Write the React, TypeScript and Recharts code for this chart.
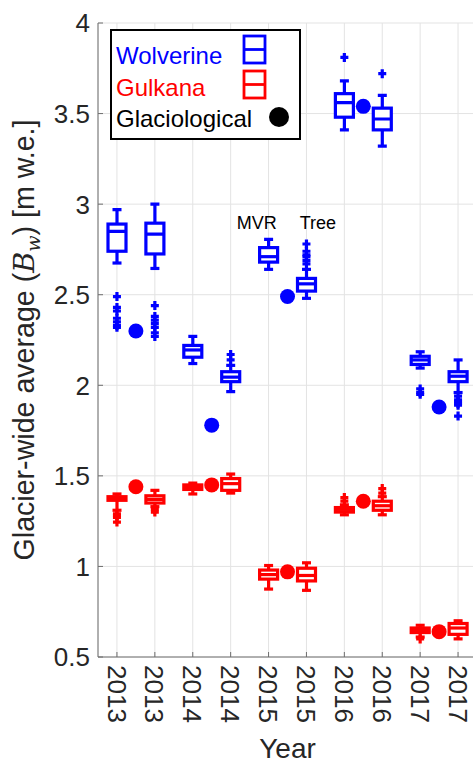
import React from 'react';
import { ComposedChart, Bar, Scatter, XAxis, YAxis, CartesianGrid, Label } from 'recharts';

// x slots: each year has two model runs (Wolverine/Gulkana boxes drawn on the same slot)
const slots = [1, 2, 3, 4, 5, 6, 7, 8, 9, 10];
const years = ['2013', '2013', '2014', '2014', '2015', '2015', '2016', '2016', '2017', '2017'];
const yTicks = [0.5, 1, 1.5, 2, 2.5, 3, 3.5, 4];

// Wolverine box stats
const wolvLow = [2.675, 2.645, 2.12, 1.965, 2.64, 2.48, 3.41, 3.32, 2.095, 1.96];
const wolvQ1 = [2.74, 2.725, 2.155, 2.02, 2.68, 2.52, 3.48, 3.41, 2.115, 2.02];
const wolvMed = [2.85, 2.835, 2.195, 2.045, 2.71, 2.56, 3.56, 3.47, 2.14, 2.05];
const wolvQ3 = [2.89, 2.895, 2.22, 2.075, 2.76, 2.59, 3.61, 3.53, 2.16, 2.075];
const wolvHigh = [2.97, 3.0, 2.27, 2.11, 2.805, 2.64, 3.68, 3.6, 2.185, 2.14];
const wolvOut = [
  [2.49, 2.43, 2.41, 2.37, 2.35, 2.33, 2.32],
  [2.44, 2.38, 2.36, 2.34, 2.32, 2.29, 2.27],
  [],
  [2.14, 2.17],
  [],
  [2.67, 2.69, 2.71, 2.72, 2.74, 2.78],
  [3.81],
  [3.72],
  [1.98, 1.96, 1.95],
  [1.94, 1.92, 1.91, 1.9, 1.89, 1.83],
];

// Gulkana box stats
const gulkLow = [1.31, 1.33, 1.4, 1.405, 0.875, 0.868, 1.285, 1.285, 0.61, 0.6];
const gulkQ1 = [1.365, 1.35, 1.425, 1.42, 0.93, 0.92, 1.3, 1.31, 0.635, 0.625];
const gulkMed = [1.375, 1.37, 1.437, 1.457, 0.955, 0.95, 1.315, 1.335, 0.65, 0.66];
const gulkQ3 = [1.385, 1.39, 1.45, 1.485, 0.98, 0.99, 1.325, 1.36, 0.66, 0.685];
const gulkHigh = [1.4, 1.42, 1.46, 1.51, 1.005, 1.02, 1.34, 1.385, 0.675, 0.7];
const gulkOut = [
  [1.29, 1.28, 1.27, 1.245],
  [1.315, 1.3],
  [],
  [],
  [],
  [],
  [1.36, 1.38],
  [1.405, 1.43],
  [0.6],
  [],
];

// glaciological values, between each pair of slots
const glacX = [1.5, 3.5, 5.5, 7.5, 9.5];
const glacWolv = [2.3, 1.78, 2.49, 3.54, 1.88];
const glacGulk = [1.44, 1.45, 0.97, 1.36, 0.64];

const notes = [
  { x: 4.69, y: 2.9, text: 'MVR' },
  { x: 6.3, y: 2.9, text: 'Tree' },
];

const BLUE = '#0000ff';
const RED = '#ff0000';
const AXIS = '#6e6e6e';
const TXT = '#262626';
const FONT = "'Liberation Sans', Arial, Helvetica, sans-serif";
const BOX_W = 18;
const LW = 3.2;

const rows = slots.map((s, i) => ({
  slot: s,
  wLow: wolvLow[i], wQ1: wolvQ1[i], wMed: wolvMed[i], wQ3: wolvQ3[i], wHigh: wolvHigh[i],
  gLow: gulkLow[i], gQ1: gulkQ1[i], gMed: gulkMed[i], gQ3: gulkQ3[i], gHigh: gulkHigh[i],
}));

const flatOut = (list: number[][]) =>
  list.flatMap((vals, i) => vals.map((v) => ({ x: slots[i], y: v })));

const glacWolvPts = glacX.map((x, i) => ({ x, y: glacWolv[i] }));
const glacGulkPts = glacX.map((x, i) => ({ x, y: glacGulk[i] }));

const span = (p: any) => {
  const top = Math.min(p.y, p.y + p.height);
  return { top, h: Math.abs(p.height), cx: p.x + p.width / 2 };
};

const whisker = (color: string) => (p: any) => {
  const { top, h, cx } = span(p);
  return (
    <g stroke={color} strokeWidth={LW}>
      <line x1={cx} x2={cx} y1={top} y2={top + h} />
      <line x1={cx - 4.5} x2={cx + 4.5} y1={top} y2={top} />
      <line x1={cx - 4.5} x2={cx + 4.5} y1={top + h} y2={top + h} />
    </g>
  );
};

const box = (color: string) => (p: any) => {
  const { top, h } = span(p);
  return <rect x={p.x} y={top} width={p.width} height={h} fill="#fff" stroke={color} strokeWidth={LW} />;
};

const median = (color: string) => (p: any) => {
  const { top, h } = span(p);
  const y = top + h / 2;
  return <line x1={p.x} x2={p.x + p.width} y1={y} y2={y} stroke={color} strokeWidth={LW} />;
};

const plus = (color: string) => (p: any) => (
  <path d={`M${p.cx - 4},${p.cy}H${p.cx + 4}M${p.cx},${p.cy - 4.5}V${p.cy + 4.5}`} stroke={color} strokeWidth={3.2} />
);

const dot = (color: string) => (p: any) => <circle cx={p.cx} cy={p.cy} r={7.5} fill={color} />;

const noteText = (p: any) => (
  <text x={p.cx} y={p.cy} dy="0.36em" textAnchor="middle" fontSize={18} fontFamily={FONT} fill="#000">
    {p.payload.text}
  </text>
);

const YTick = (p: any) => (
  <g>
    <line x1={p.x} x2={p.x + 5} y1={p.y} y2={p.y} stroke={AXIS} />
    <text x={p.x - 8} y={p.y} dy="0.36em" textAnchor="end" fontSize={26} fontFamily={FONT} fill={TXT}>
      {p.payload.value}
    </text>
  </g>
);

const XTick = (p: any) => (
  <g>
    <line x1={p.x} x2={p.x} y1={p.y} y2={p.y - 5} stroke={AXIS} />
    <text
      transform={`translate(${p.x},${p.y + 8}) rotate(90)`}
      dy="0.36em"
      textAnchor="start"
      fontSize={26}
      fontFamily={FONT}
      fill={TXT}
    >
      {years[p.payload.value - 1]}
    </text>
  </g>
);

const TopTick = (p: any) => <line x1={p.x} x2={p.x} y1={p.y} y2={p.y + 5} stroke={AXIS} />;

const YLabel = (p: any) => {
  const vb = p.viewBox || {};
  const cy = vb.height ? vb.y + vb.height / 2 : 340;
  return (
    <text transform={`translate(24,${cy}) rotate(-90)`} dy="0.36em" textAnchor="middle" fontSize={28.6} fontFamily={FONT} fill={TXT}>
      Glacier-wide average (
      <tspan fontStyle="italic" fontFamily="'DejaVu Serif', serif">B</tspan>
      <tspan fontStyle="italic" fontFamily="'DejaVu Serif', serif" fontSize={19} dy={6}>w</tspan>
      <tspan dy={-6}>) [m w.e.]</tspan>
    </text>
  );
};

const LegendBox = () => (
  <svg width={473} height={765} style={{ position: 'absolute', left: 0, top: 0, pointerEvents: 'none' }}>
    <rect x={111} y={30} width={189} height={109} fill="#fff" stroke="#000" strokeWidth={2} />
    <g fontSize={24} fontFamily={FONT}>
      <text x={116} y={64} fill={BLUE}>Wolverine</text>
      <text x={116} y={95.5} fill={RED}>Gulkana</text>
      <text x={116} y={126.5} fill="#000">Glaciological</text>
    </g>
    <rect x={244} y={36} width={21} height={27} fill="none" stroke={BLUE} strokeWidth={2.8} />
    <line x1={244} x2={265} y1={49.5} y2={49.5} stroke={BLUE} strokeWidth={2.8} />
    <rect x={244} y={71} width={21} height={27} fill="none" stroke={RED} strokeWidth={2.8} />
    <line x1={244} x2={265} y1={84.5} y2={84.5} stroke={RED} strokeWidth={2.8} />
    <circle cx={279} cy={117} r={10} fill="#000" />
  </svg>
);

export default function App() {
  return (
    <div style={{ position: 'relative', width: 473, height: 765, overflow: 'hidden', background: '#fff' }}>
      <style>{'body{margin:0;overflow:hidden}'}</style>
      <ComposedChart
        width={480}
        height={765}
        data={rows}
        margin={{ top: 23, right: 3, bottom: 0, left: 0 }}
        barGap={-BOX_W}
      >
        <CartesianGrid xAxisId="cat" stroke="#e3e3e3" />
        <XAxis
          xAxisId="cat"
          dataKey="slot"
          type="category"
          height={108}
          axisLine={{ stroke: AXIS }}
          tickLine={false}
          tickSize={0}
          tickMargin={0}
          tick={<XTick />}
          interval={0}
        >
          <Label value="Year" position="insideBottom" offset={7} fontSize={28} fontFamily={FONT} fill={TXT} />
        </XAxis>
        <XAxis
          xAxisId="top"
          dataKey="slot"
          type="category"
          orientation="top"
          height={0}
          axisLine={{ stroke: AXIS }}
          tickLine={false}
          tickSize={0}
          tickMargin={0}
          tick={<TopTick />}
          interval={0}
        />
        <XAxis xAxisId="num" dataKey="x" type="number" domain={[0.5, 10.5]} hide allowDataOverflow />
        <YAxis
          type="number"
          domain={[0.5, 4]}
          ticks={yTicks}
          width={98}
          allowDataOverflow
          axisLine={{ stroke: AXIS }}
          tickLine={false}
          tickSize={0}
          tickMargin={0}
          tick={<YTick />}
          interval={0}
        >
          <Label content={<YLabel />} />
        </YAxis>

        <Bar xAxisId="cat" dataKey={(d: any) => [d.wLow, d.wHigh]} barSize={BOX_W} shape={whisker(BLUE)} isAnimationActive={false} />
        <Bar xAxisId="cat" dataKey={(d: any) => [d.wQ1, d.wQ3]} barSize={BOX_W} shape={box(BLUE)} isAnimationActive={false} />
        <Bar xAxisId="cat" dataKey={(d: any) => [d.wMed, d.wMed]} barSize={BOX_W} shape={median(BLUE)} isAnimationActive={false} />
        <Bar xAxisId="cat" dataKey={(d: any) => [d.gLow, d.gHigh]} barSize={BOX_W} shape={whisker(RED)} isAnimationActive={false} />
        <Bar xAxisId="cat" dataKey={(d: any) => [d.gQ1, d.gQ3]} barSize={BOX_W} shape={box(RED)} isAnimationActive={false} />
        <Bar xAxisId="cat" dataKey={(d: any) => [d.gMed, d.gMed]} barSize={BOX_W} shape={median(RED)} isAnimationActive={false} />

        <Scatter xAxisId="num" data={flatOut(wolvOut)} dataKey="y" shape={plus(BLUE)} isAnimationActive={false} />
        <Scatter xAxisId="num" data={flatOut(gulkOut)} dataKey="y" shape={plus(RED)} isAnimationActive={false} />
        <Scatter xAxisId="num" data={glacWolvPts} dataKey="y" shape={dot(BLUE)} isAnimationActive={false} />
        <Scatter xAxisId="num" data={glacGulkPts} dataKey="y" shape={dot(RED)} isAnimationActive={false} />
        <Scatter xAxisId="num" data={notes} dataKey="y" shape={noteText} isAnimationActive={false} />
      </ComposedChart>
      <LegendBox />
    </div>
  );
}
